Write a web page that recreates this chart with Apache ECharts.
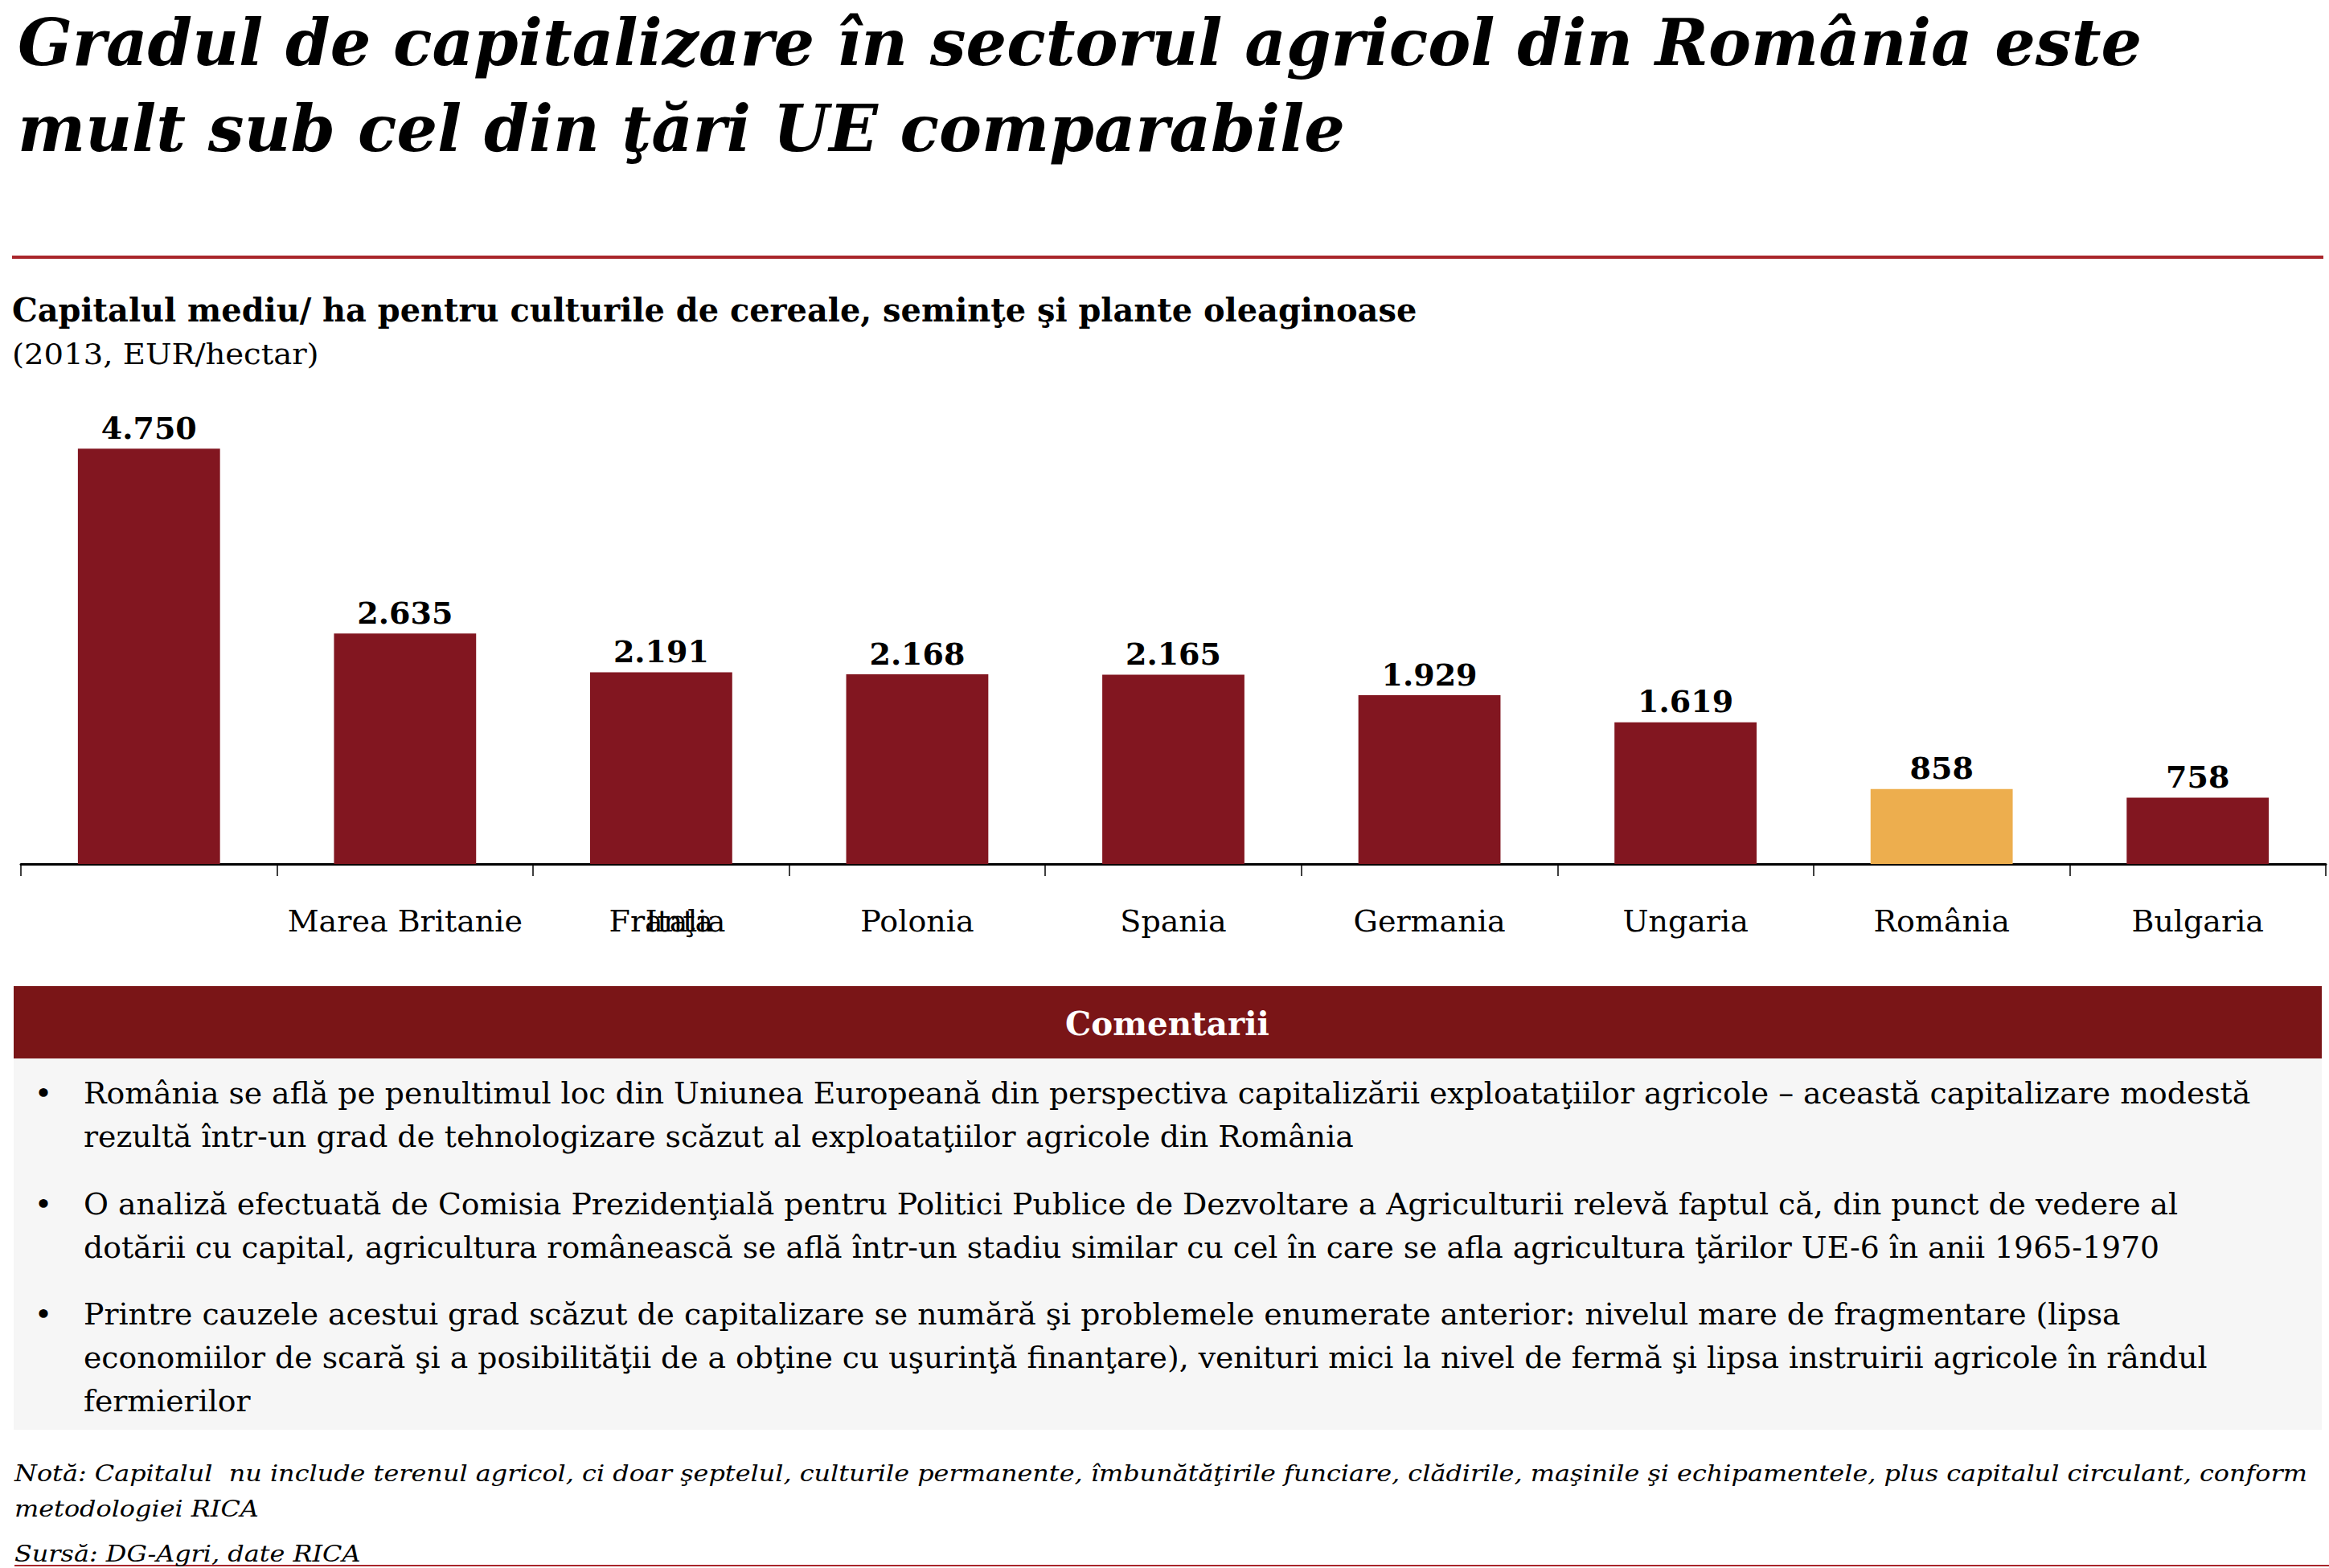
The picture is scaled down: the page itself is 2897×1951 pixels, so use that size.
<!DOCTYPE html>
<html>
<head>
<meta charset="utf-8">
<script src="https://cdn.jsdelivr.net/npm/echarts@6/dist/echarts.min.js"></script>
<style>
html,body{margin:0;padding:0;background:#fff;}
#chart{width:2897px;height:1951px;}
</style>
</head>
<body>
<div id="chart"></div>
<script>
// ---------- data ----------
const categories = ['Italia', 'Marea Britanie', 'Franţa', 'Polonia', 'Spania', 'Germania', 'Ungaria', 'România', 'Bulgaria'];
const values = [4750, 2635, 2191, 2168, 2165, 1929, 1619, 858, 758];
const tickLabels = ['', 'Marea Britanie', 'Franţa', 'Polonia', 'Spania', 'Germania', 'Ungaria', 'România', 'Bulgaria'];
const overlayLabels = ['', '', 'Italia', '', '', '', '', '', ''];
const highlight = 'România';

const titleLines = ['Gradul de capitalizare în sectorul agricol din România este', 'mult sub cel din ţări UE comparabile'];
const subtitle = 'Capitalul mediu/ ha pentru culturile de cereale, seminţe şi plante oleaginoase';
const unitText = '(2013, EUR/hectar)';
const commentHeader = 'Comentarii';
const bullets = [
  ['România se află pe penultimul loc din Uniunea Europeană din perspectiva capitalizării exploataţiilor agricole – această capitalizare modestă',
   'rezultă într-un grad de tehnologizare scăzut al exploataţiilor agricole din România'],
  ['O analiză efectuată de Comisia Prezidenţială pentru Politici Publice de Dezvoltare a Agriculturii relevă faptul că, din punct de vedere al',
   'dotării cu capital, agricultura românească se află într-un stadiu similar cu cel în care se afla agricultura ţărilor UE-6 în anii 1965-1970'],
  ['Printre cauzele acestui grad scăzut de capitalizare se numără şi problemele enumerate anterior: nivelul mare de fragmentare (lipsa',
   'economiilor de scară şi a posibilităţii de a obţine cu uşurinţă finanţare), venituri mici la nivel de fermă şi lipsa instruirii agricole în rândul',
   'fermierilor']
];
const noteLines = ['Notă: Capitalul  nu include terenul agricol, ci doar şeptelul, culturile permanente, îmbunătăţirile funciare, clădirile, maşinile şi echipamentele, plus capitalul circulant, conform',
  'metodologiei RICA'];
const sourceText = 'Sursă: DG-Agri, date RICA';

// ---------- style ----------
const FAM = '"DejaVu Serif", serif';
const RED = '#821620';
const ORANGE = '#EDAE4E';
const BAND = '#7A1517';
const RULE = '#A9262B';

const cv = document.createElement('canvas').getContext('2d');
function mw(text, size, weight, style) {
  cv.font = (style || 'normal') + ' ' + (weight || 'normal') + ' ' + size + 'px ' + FAM;
  return cv.measureText(text).width;
}
function scaleFor(pairs, size, weight, style) {
  let s = 0;
  pairs.forEach(p => { s += p[1] / mw(p[0], size, weight, style); });
  return s / pairs.length;
}
function txt(text, x, baseline, size, o) {
  o = o || {};
  return {
    type: 'text', x: x, y: baseline - 0.35 * size, scaleX: o.sx || 1, z: 10,
    style: {
      text: text, fill: o.color || '#000', fontFamily: FAM, fontSize: size,
      fontWeight: o.weight || 'normal', fontStyle: o.style || 'normal',
      align: o.align || 'left', verticalAlign: 'middle'
    }
  };
}
const fmt = v => v >= 1000 ? Math.floor(v / 1000) + '.' + String(v % 1000).padStart(3, '0') : String(v);

const g = [];
// title
const tSize = 81;
const tSx = scaleFor([[titleLines[0], 2655], [titleLines[1], 1642]], tSize, 'bold', 'italic');
g.push(txt(titleLines[0], 22, 81, tSize, {weight: 'bold', style: 'italic', sx: tSx}));
g.push(txt(titleLines[1], 22, 188, tSize, {weight: 'bold', style: 'italic', sx: tSx}));
g.push({type: 'rect', shape: {x: 15, y: 318, width: 2875, height: 4}, style: {fill: RULE}});
// subtitle
const sSize = 41;
g.push(txt(subtitle, 15, 400, sSize, {weight: 'bold', sx: scaleFor([[subtitle, 1747]], sSize, 'bold')}));
const uSize = 36;
g.push(txt(unitText, 15, 453, uSize, {sx: scaleFor([[unitText, 382]], uSize)}));
// comment box
g.push({type: 'rect', shape: {x: 17, y: 1227, width: 2871, height: 90}, style: {fill: BAND}});
g.push({type: 'rect', shape: {x: 17, y: 1317, width: 2871, height: 462}, style: {fill: '#F6F6F6'}});
const cSize = 41;
g.push(txt(commentHeader, 1452, 1288, cSize, {weight: 'bold', color: '#fff', align: 'center', sx: scaleFor([[commentHeader, 254]], cSize, 'bold')}));
const bSize = 38;
const bSx = scaleFor([[bullets[0][0], 2709], [bullets[1][0], 2604], [bullets[1][1], 2576], [bullets[2][0], 2523], [bullets[2][1], 2652]], bSize);
const bulletBase = [1373, 1511, 1648];
const lineGap = 54;
bullets.forEach((lines, bi) => {
  g.push(txt('•', 54, bulletBase[bi], bSize, {align: 'center'}));
  lines.forEach((ln, li) => g.push(txt(ln, 104, bulletBase[bi] + li * lineGap, bSize, {sx: bSx})));
});
// footer
const fSize = 27;
const fSx = scaleFor([[noteLines[0], 2825], [sourceText, 435]], fSize, 'normal', 'italic');
g.push(txt(noteLines[0], 18, 1843, fSize, {style: 'italic', sx: fSx}));
g.push(txt(noteLines[1], 18, 1887, fSize, {style: 'italic', sx: fSx}));
g.push(txt(sourceText, 18, 1943, fSize, {style: 'italic', sx: fSx}));
g.push({type: 'rect', shape: {x: 18, y: 1947, width: 2879, height: 2}, style: {fill: RULE}});

const axisFont = 38;
const hiIdx = categories.indexOf(highlight);

const chart = echarts.init(document.getElementById('chart'), null, {renderer: 'svg', width: 2897, height: 1951});
chart.setOption({
  backgroundColor: '#fff',
  animation: false,
  grid: {left: 26, right: 4, top: 531, bottom: 876, containLabel: false},
  xAxis: [{
    type: 'category', data: categories, boundaryGap: true,
    axisLine: {lineStyle: {color: '#000', width: 3}},
    axisTick: {show: true, length: 15, lineStyle: {color: '#000', width: 1.5}},
    axisLabel: {interval: 0, margin: 52, color: '#000', fontFamily: FAM, fontSize: axisFont,
      formatter: (v, i) => tickLabels[i]}
  }, {
    type: 'category', data: categories, position: 'bottom', boundaryGap: true,
    axisLine: {show: false}, axisTick: {show: false},
    axisLabel: {interval: 0, margin: 52, color: '#000', fontFamily: FAM, fontSize: axisFont,
      formatter: (v, i) => overlayLabels[i] ? '{s|' + overlayLabels[i] + '}' : '',
      rich: {s: {fontFamily: FAM, fontSize: axisFont, color: '#000', padding: [0, 0, 0, 60]}}}
  }],
  yAxis: {type: 'value', min: 0, max: 5000, show: false, splitLine: {show: false}},
  series: [{
    type: 'bar', xAxisIndex: 0, barWidth: '55.5%',
    data: values.map((v, i) => ({value: v, itemStyle: {color: i === hiIdx ? ORANGE : RED}})),
    label: {show: true, position: 'top', distance: 7, color: '#000', fontFamily: FAM,
      fontWeight: 'bold', fontSize: 38, formatter: p => fmt(p.value)}
  }],
  graphic: g
});
</script>
</body>
</html>
